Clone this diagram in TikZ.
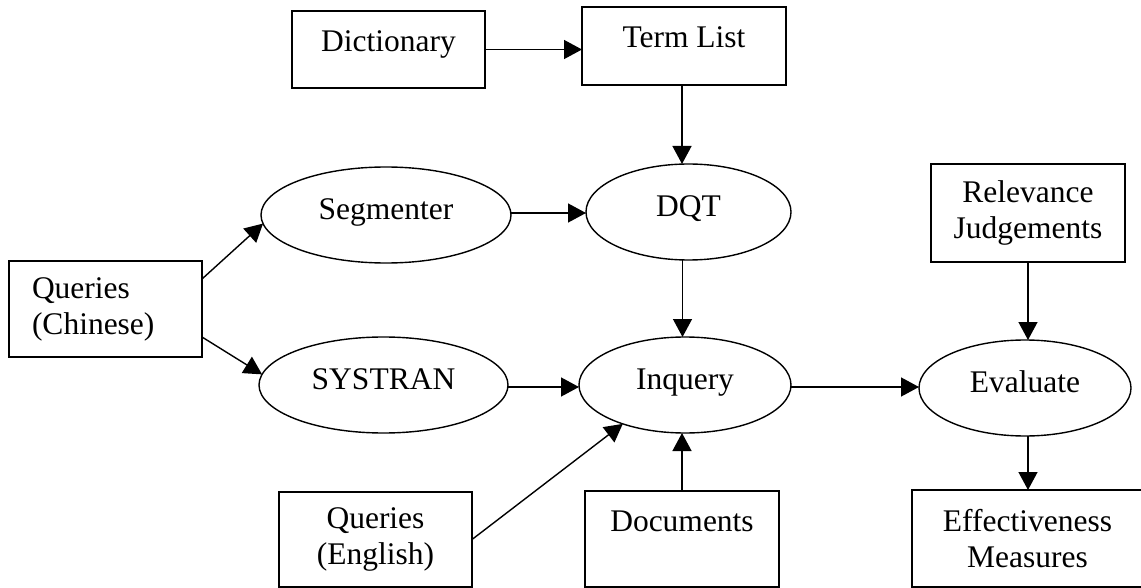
\documentclass[tikz,border=0pt]{standalone}
\usepackage{fontspec}
\setmainfont{Liberation Serif}
\usetikzlibrary{arrows.meta,shapes.geometric,calc}
\begin{document}
\begin{tikzpicture}[x=1pt,y=-1pt,
  lbl/.style={font=\fontsize{31.5pt}{36pt}\selectfont, inner sep=0pt, outer sep=0pt},
  boxnode/.style={draw, line width=1.5pt, rectangle, inner sep=0pt, outer sep=0pt, align=center, font=\fontsize{31.5pt}{36pt}\selectfont},
  ell/.style={draw, ellipse, line width=1.4pt, inner sep=0pt, outer sep=0pt, text height=16pt, text depth=7pt, font=\fontsize{31.5pt}{36pt}\selectfont},
  arr/.style={line width=1.4pt, -{Triangle[length=18pt,width=19pt]}}]
\useasboundingbox (0,0) rectangle (1141,588);
\clip (0,0) rectangle (1141,588);
% nodes
\node[boxnode, minimum width=193pt, minimum height=77pt] (dict) at (388.5,49.5) {};
\node[lbl, anchor=base] (dictT) at ([yshift=-41pt]dict.north) {Dictionary};
\node[boxnode, minimum width=204pt, minimum height=78pt] (tl) at (684,46) {};
\node[lbl, anchor=base] (tlT) at ([yshift=-41pt]tl.north) {Term List};
\node[ell, minimum width=250pt, minimum height=96pt] (seg) at (386,215) {Segmenter};
\node[ell, minimum width=205pt, minimum height=96pt] (dqt) at (688.5,212) {DQT};
\node[boxnode, minimum width=194pt, minimum height=98pt] (rj) at (1028,213) {Relevance\\Judgements};
\node[boxnode, minimum width=193pt, minimum height=96pt] (qc) at (105.5,309) {};
\node[lbl, anchor=west, align=left] (qcT) at (32,309) {Queries\\(Chinese)};
\node[ell, minimum width=249pt, minimum height=96pt] (sys) at (383.5,385) {SYSTRAN};
\node[ell, minimum width=212pt, minimum height=96pt] (inq) at (685,385) {Inquery};
\node[ell, minimum width=212pt, minimum height=96pt] (eval) at (1025,388) {Evaluate};
\node[boxnode, minimum width=193pt, minimum height=95pt] (qe) at (375.5,539.5) {Queries\\(English)};
\node[boxnode, minimum width=194pt, minimum height=96pt] (docs) at (682,539) {};
\node[lbl, anchor=base] (docsT) at ([yshift=-40pt]docs.north) {Documents};
\node[boxnode, minimum width=231pt, minimum height=97pt] (em) at (1027.5,538.5) {Effectiveness\\Measures};
% connectors
\draw[arr] (dict.east) -- (dict.east -| tl.west);
\draw[arr] ([xshift=-2pt]tl.south) -- ([xshift=-2pt]tl.south |- dqt.north);
\draw[arr] ([yshift=2pt]seg.east) -- ([yshift=2pt]seg.east -| dqt.west);
\draw[arr] ([yshift=30pt]qc.east) -- (seg.184);
\draw[arr] ([yshift=-28pt]qc.east) -- (sys.175);
\draw[arr] ([yshift=-2pt]sys.east) -- ([yshift=-2pt]sys.east -| inq.west);
\draw[arr] (qe.east) -- (inq.212);
\draw[arr] ([xshift=-6pt]dqt.south) -- ([xshift=-6pt]dqt.south |- inq.north);
\draw[arr] (docs.north) -- (docs.north |- inq.south);
\draw[arr] ([yshift=-2pt]inq.east) -- ([yshift=-2pt]inq.east -| eval.west);
\draw[arr] (rj.south) -- (rj.south |- eval.north);
\draw[arr] (rj.south |- eval.south) -- (rj.south |- em.north);
\end{tikzpicture}
\end{document}
